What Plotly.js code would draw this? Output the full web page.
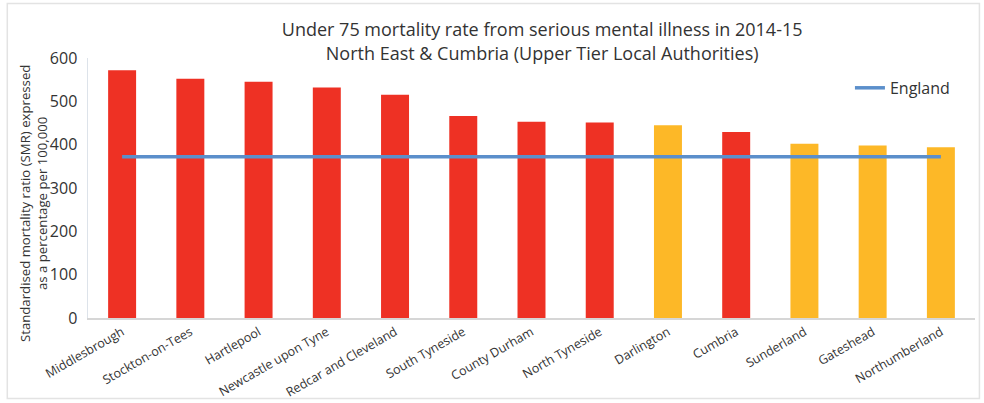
<!DOCTYPE html>
<html>
<head>
<meta charset="utf-8">
<script src="https://cdn.plot.ly/plotly-3.0.1.min.js"></script>
<style>html,body{margin:0;padding:0;background:#fff;}#chart{width:984px;height:403px;}</style>
</head>
<body>
<div id="chart"></div>
<script>
const areas = ["Middlesbrough","Stockton-on-Tees","Hartlepool","Newcastle upon Tyne","Redcar and Cleveland","South Tyneside","County Durham","North Tyneside","Darlington","Cumbria","Sunderland","Gateshead","Northumberland"];
const smrValues = [572, 552, 545, 532, 515, 466, 453, 451, 445, 429, 402, 398, 394];
const ratingGroup = ["red","red","red","red","red","red","red","red","amber","red","amber","amber","amber"];
const englandRate = [372, 372, 372, 372, 372, 372, 372, 372, 372, 372, 372, 372, 372];
const yTicks = [0, 100, 200, 300, 400, 500, 600];

const palette = {red: "#EE3124", amber: "#FDB827"};
const font = "'Open Sans', 'Noto Sans', sans-serif";

const traces = [
  {
    type: "bar", x: areas, y: smrValues,
    marker: {color: ratingGroup.map(g => palette[g])},
    width: 0.41, showlegend: false, hoverinfo: "x+y"
  },
  {
    type: "scatter", mode: "lines", x: areas, y: englandRate,
    name: "England", line: {color: "#5B8FCB", width: 3.5}
  }
];

const layout = {
  width: 984, height: 403,
  margin: {l: 88, r: 9, t: 58, b: 85},
  paper_bgcolor: "#fff", plot_bgcolor: "#fff",
  font: {family: font, color: "#333"},
  title: {
    text: "Under 75 mortality rate from serious mental illness in 2014-15<br>North East &amp; Cumbria (Upper Tier Local Authorities)",
    font: {size: 18, color: "#333", family: font},
    x: 0.551, xanchor: "center", y: 0.91, yanchor: "top"
  },
  xaxis: {
    type: "category", tickangle: -30, tickfont: {size: 12.5, color: "#333"},
    showline: true, linecolor: "#d6d6d6", linewidth: 2, ticks: "", showgrid: false,
    range: [-0.5, 12.5]
  },
  yaxis: {
    range: [0, 600], tickvals: yTicks, tickfont: {size: 16, color: "#333"},
    showline: true, linecolor: "#dde3ea", linewidth: 1.5, ticks: "", showgrid: false, zeroline: false,
    ticklabelstandoff: 6
  },
  annotations: [
    {text: "Standardised mortality ratio (SMR) expressed<br>as a percentage per 100,000", textangle: -90,
     xref: "paper", yref: "paper", x: -0.0615, y: 0.44, xanchor: "center", yanchor: "middle",
     showarrow: false, font: {size: 13.2, color: "#333"}}
  ],
  legend: {x: 0.859, y: 0.885, xanchor: "left", yanchor: "middle", font: {size: 16, color: "#333"}, bgcolor: "rgba(0,0,0,0)", itemwidth: 30},
  shapes: [
    {type: "rect", xref: "paper", yref: "paper", x0: -0.091, x1: 1.005, y0: -0.31, y1: 1.21, line: {color: "#e3e3e3", width: 1.5}}
  ]
};

Plotly.newPlot("chart", traces, layout, {displayModeBar: false, staticPlot: true});
</script>
</body>
</html>
